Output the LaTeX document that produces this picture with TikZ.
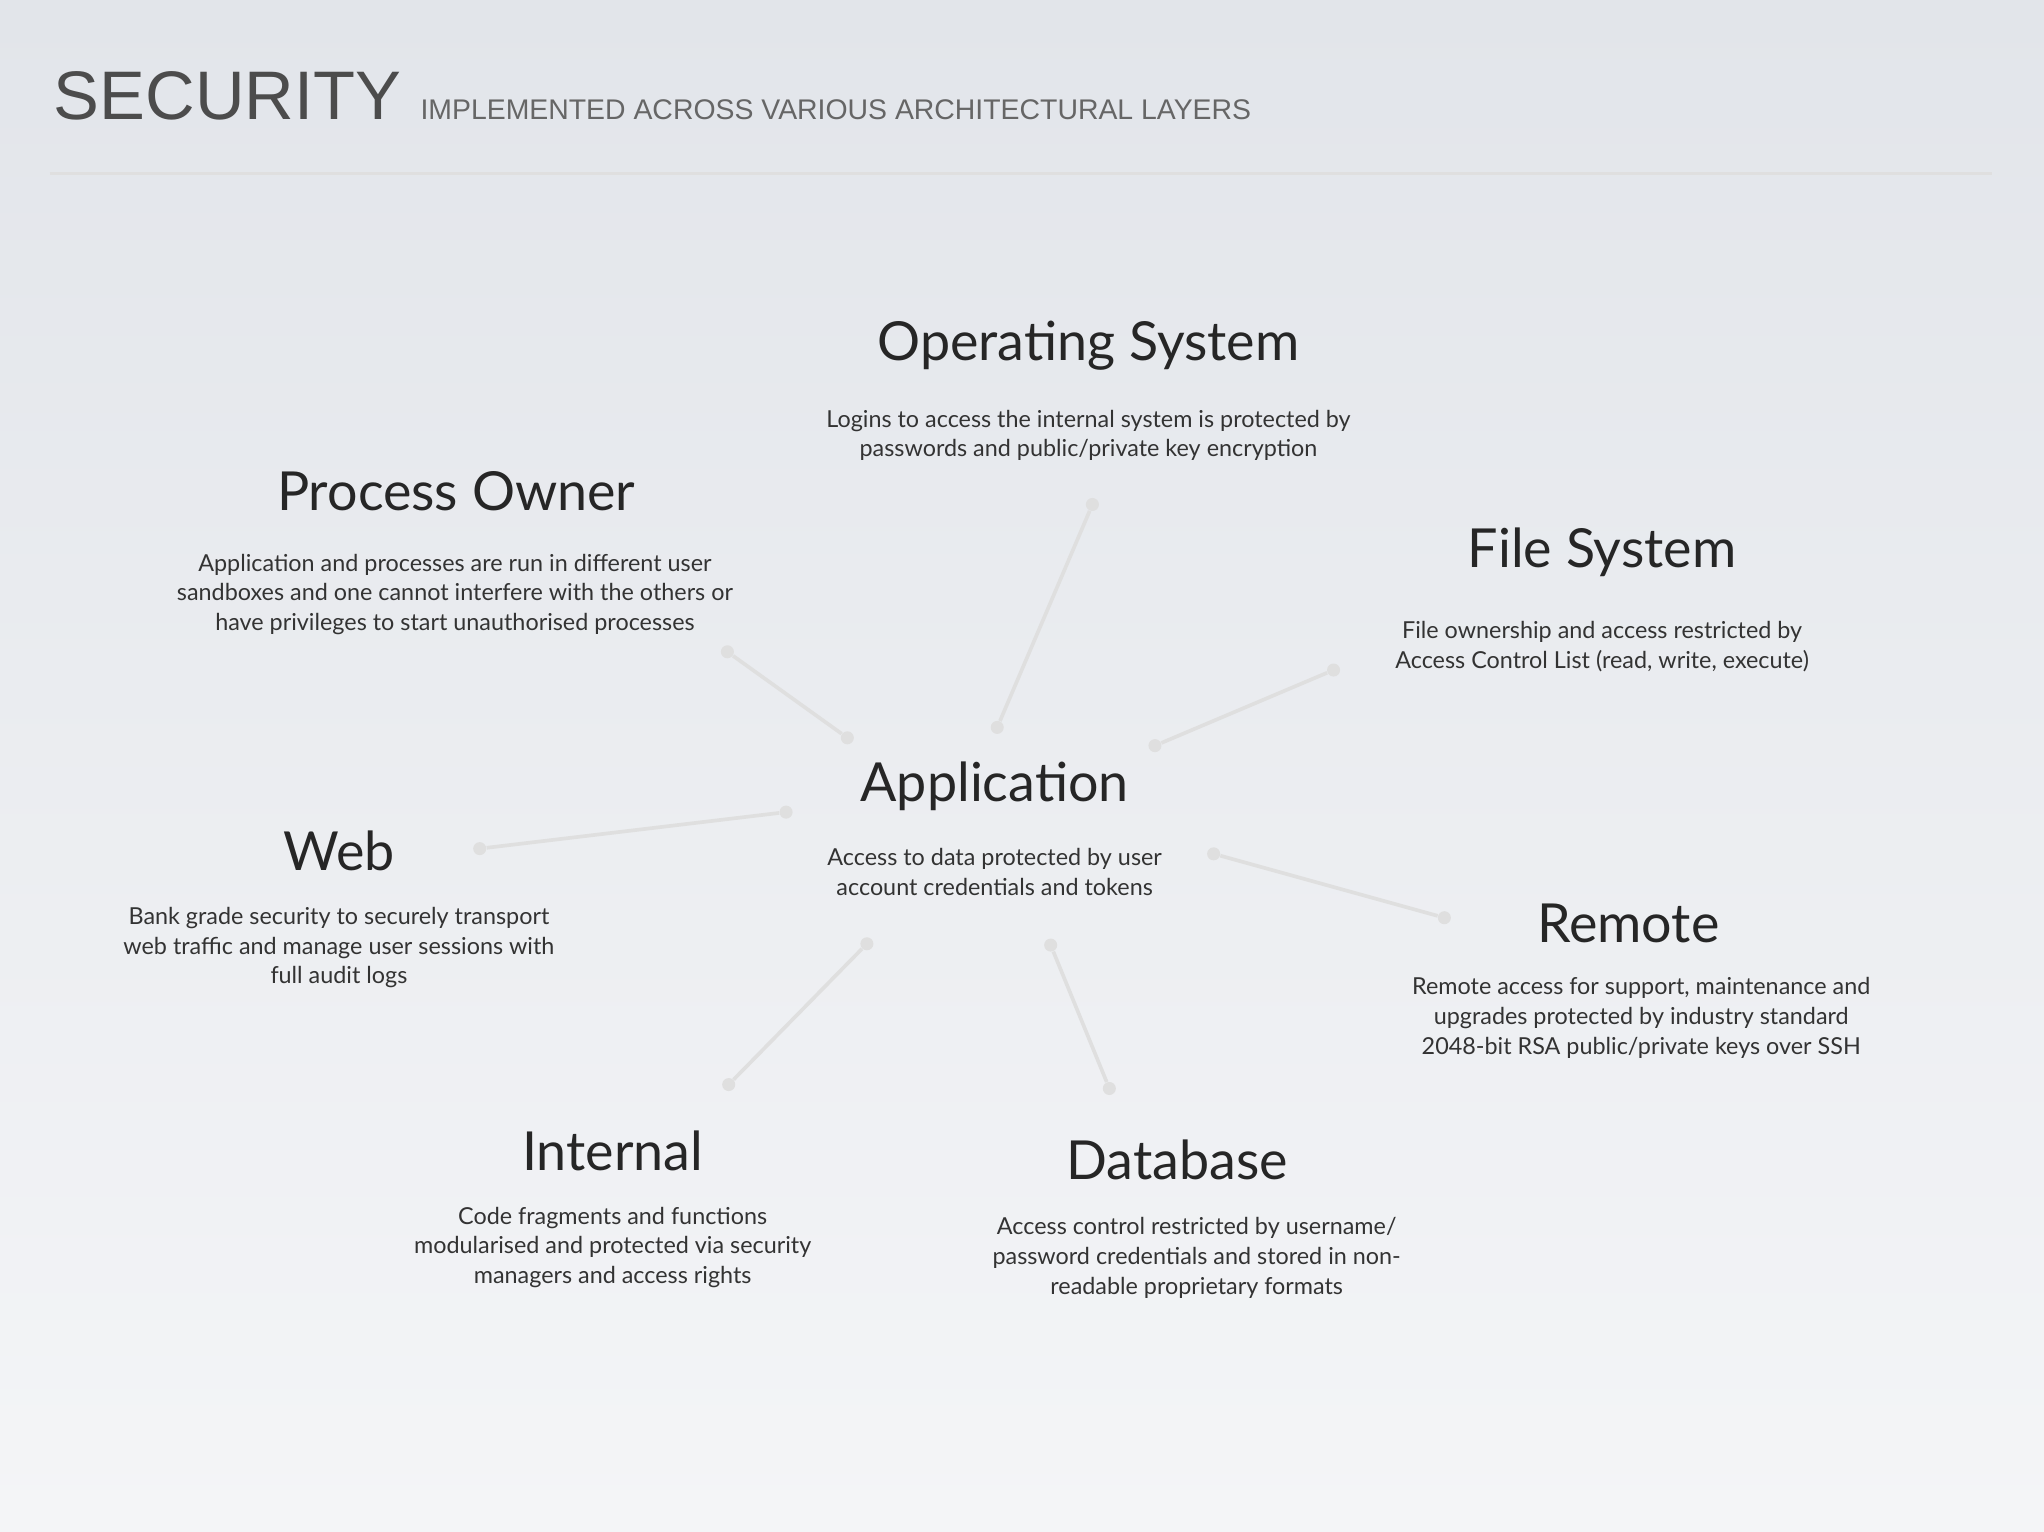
\documentclass[tikz,border=0pt]{standalone}
\usepackage{fontspec}
\setmainfont{Lato}
\newfontfamily\titlefont{Liberation Sans}
\usetikzlibrary{positioning}
\definecolor{bgtop}{RGB}{226,229,234}
\definecolor{bgbottom}{RGB}{244,245,247}

\tikzset{
  heading/.style={font=\fontsize{23.5}{28}\selectfont, text=black!85},
  body/.style={font=\fontsize{10.2}{13}\selectfont, text=black!80, align=center},
  link/.style={draw=gray!25, line width=1.6pt},
  tip/.style={circle, fill=gray!25, inner sep=0pt, minimum size=0.2cm}
}

\begin{document}
\begin{tikzpicture}[x=0.02cm, y=-0.02cm]
% background
\shade[top color=bgtop, bottom color=bgbottom] (0,0) rectangle (1568,1175);
\useasboundingbox (0,0) rectangle (1568,1175);

% title
\node[anchor=base west, inner sep=0pt, text=black!70, font=\titlefont\fontsize{30}{34}\selectfont] (title) at (41,92) {SECURITY};
\node[inner sep=0pt, text=black!60, font=\titlefont\fontsize{12.4}{14}\selectfont, right=8pt of title.base east, anchor=base west] (subtitle) {IMPLEMENTED ACROSS VARIOUS ARCHITECTURAL LAYERS};
\draw[gray!25, line width=1.2pt] (38,133) -- (1528,133);

% layers
\node[heading] (os) at (835,265) {Operating System};
\node[body] (osb) at (835,334) {Logins to access the internal system is protected by\\passwords and public/private key encryption};

\node[heading] (po) at (350,377) {Process Owner};
\node[body] (pob) at (349,456) {Application and processes are run in different user\\sandboxes and one cannot interfere with the others or\\have privileges to start unauthorised processes};

\node[heading] (fs) at (1229,424) {File System};
\node[body] (fsb) at (1229,496) {File ownership and access restricted by\\Access Control List (read, write, execute)};

\node[heading] (app) at (763,603) {Application};
\node[body] (appb) at (763,669) {Access to data protected by user\\account credentials and tokens};

\node[heading] (web) at (260,653) {Web};
\node[body] (webb) at (260,727) {Bank grade security to securely transport\\web traffic and manage user sessions with\\full audit logs};

\node[heading] (rem) at (1249,708) {Remote};
\node[body] (remb) at (1259,781) {Remote access for support, maintenance and\\upgrades protected by industry standard\\2048-bit RSA public/private keys over SSH};

\node[heading] (int) at (470,883) {Internal};
\node[body] (intb) at (470,957) {Code fragments and functions\\modularised and protected via security\\managers and access rights};

\node[heading] (db) at (903,890) {Database};
\node[body] (dbb) at (918,965) {Access control restricted by username/\\password credentials and stored in non-\\readable proprietary formats};

% connectors
\node[tip] (os1) at (838,387) {};   \node[tip] (os2) at (765,558) {};
\node[tip] (po1) at (558,500) {};   \node[tip] (po2) at (650,566) {};
\node[tip] (fs1) at (1023,514) {};  \node[tip] (fs2) at (886,572) {};
\node[tip] (web1) at (368,651) {};  \node[tip] (web2) at (603,623) {};
\node[tip] (rem1) at (1108,704) {}; \node[tip] (rem2) at (931,655) {};
\node[tip] (int1) at (559,832) {};  \node[tip] (int2) at (665,724) {};
\node[tip] (db1) at (851,835) {};   \node[tip] (db2) at (806,725) {};
\foreach \n in {os,po,fs,web,rem,int,db}
  \draw[link] (\n1) -- (\n2);
\end{tikzpicture}
\end{document}
